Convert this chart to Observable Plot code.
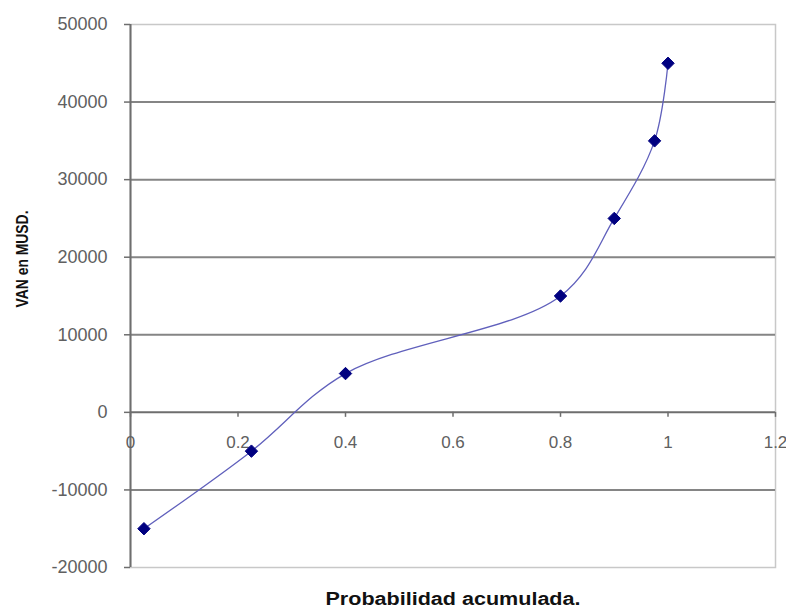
<!DOCTYPE html>
<html>
<head>
<meta charset="utf-8">
<script src="https://cdn.jsdelivr.net/npm/d3@7"></script>
<script src="https://cdn.jsdelivr.net/npm/@observablehq/plot@0.6"></script>
<style>
  html, body { margin: 0; padding: 0; background: #fff; }
  #chart { width: 786px; height: 612px; }
</style>
</head>
<body>
<div id="chart"></div>
<script>
const probAcumulada = [0.025, 0.225, 0.4, 0.8, 0.9, 0.975, 1.0];
const vanMUSD = [-15000, -5000, 5000, 15000, 25000, 35000, 45000];
const xTicks = [0, 0.2, 0.4, 0.6, 0.8, 1, 1.2];
const yTicks = [-20000, -10000, 0, 10000, 20000, 30000, 40000, 50000];
const yGrid = [-10000, 10000, 20000, 30000, 40000];
const xTitle = "Probabilidad acumulada.";
const yTitle = "VAN en MUSD.";

const data = probAcumulada.map((p, i) => ({p, v: vanMUSD[i]}));
const font = "'Liberation Sans', Arial, sans-serif";

const chart = Plot.plot({
  width: 786,
  height: 612,
  marginLeft: 130,
  marginRight: 11,
  marginTop: 24,
  marginBottom: 45,
  style: {fontFamily: font, background: "#fff"},
  x: {domain: [0, 1.2], axis: null},
  y: {domain: [-20000, 50000], axis: null},
  marks: [
    Plot.frame({stroke: "#c8c8c8", strokeWidth: 1.5}),
    Plot.ruleY(yGrid, {stroke: "#858585", strokeWidth: 2}),
    Plot.ruleY([0], {stroke: "#6e6e6e", strokeWidth: 2}),
    Plot.ruleX([0], {stroke: "#6e6e6e", strokeWidth: 2}),
    Plot.axisY({
      ticks: yTicks,
      tickFormat: d => String(d),
      tickSize: 6,
      tickPadding: 17,
      stroke: "#6e6e6e",
      strokeWidth: 1.5,
      fill: "#606060",
      fontSize: 18,
      label: null
    }),
    Plot.ruleX(xTicks, {x: d => d, y1: 0, y2: 0, insetBottom: -5, stroke: "#6e6e6e", strokeWidth: 1.5}),
    Plot.text(xTicks, {x: d => d, y: 0, text: d => String(d), dy: 30, fill: "#606060", fontSize: 17}),
    Plot.line(data, {x: "p", y: "v", curve: "catmull-rom", stroke: "#6060bc", strokeWidth: 1.3}),
    Plot.dot(data, {x: "p", y: "v", symbol: "diamond2", r: 5.6, fill: "#000080", stroke: "#000080", strokeWidth: 1}),
    Plot.text([xTitle], {frameAnchor: "bottom", dy: 37, fill: "#111", fontSize: 18, fontWeight: "bold"}),
    Plot.text([yTitle], {frameAnchor: "left", textAnchor: "middle", dx: -108, dy: -37, rotate: -90, fill: "#111", fontSize: 17, fontWeight: "bold"})
  ]
});
document.getElementById("chart").appendChild(chart);

// stretch titles to the reference's proportions
d3.select(chart).selectAll("text").each(function() {
  const t = this.textContent;
  if (t === xTitle) d3.select(this).attr("textLength", 255).attr("lengthAdjust", "spacingAndGlyphs");
  if (t === yTitle) d3.select(this).attr("textLength", 97).attr("lengthAdjust", "spacingAndGlyphs");
});
</script>
</body>
</html>
